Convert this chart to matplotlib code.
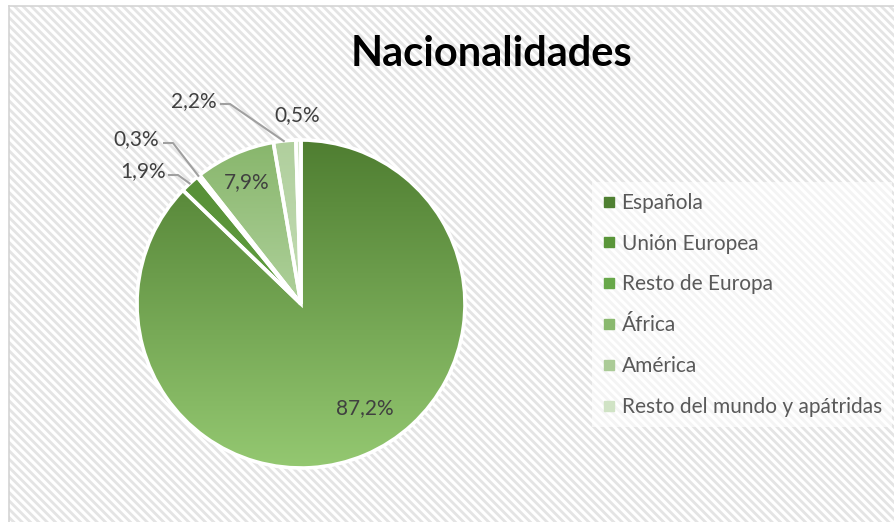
import numpy as np
import matplotlib
matplotlib.use("Agg")
import matplotlib.pyplot as plt
from matplotlib.patches import Rectangle
from matplotlib.lines import Line2D
from matplotlib.colors import to_rgb

# ---- data ----
categories = ["Española", "Unión Europea", "Resto de Europa", "África", "América",
              "Resto del mundo y apátridas"]
values = [87.2, 1.9, 0.3, 7.9, 2.2, 0.5]
title = "Nacionalidades"

# ---- style ----
top_colors = ["#4f7e31", "#578f37", "#64a040", "#88b66c", "#b0cf9d", "#d2e4c7"]
bot_colors = ["#94c871", "#60a040", "#72ad4f", "#afd19b", "#c3dcb4", "#dcebd3"]
legend_colors = ["#4f8032", "#5a963a", "#68a84a", "#8ab96f", "#abcb97", "#d0e3c5"]
FONT = "Lato"
plt.rcParams["font.family"] = [FONT, "DejaVu Sans"]
plt.rcParams["hatch.linewidth"] = 2.0

W, H = 894, 522
CX, CY, R = 301, 304, 164   # pie centre / radius in pixels


def P(px, py):
    """pixel (from top-left) -> data coordinates"""
    return (px - CX) / R, (CY - py) / R


fig = plt.figure(figsize=(W / 100, H / 100), dpi=100)
fig.patch.set_facecolor("white")

# background with diagonal stripes
bg = Rectangle((9 / W, 0), 1 - 9 / W, 1 - 6 / H, transform=fig.transFigure,
               facecolor="white", edgecolor="#e4e4e4", lw=0, hatch="\\\\\\\\", zorder=-5)
fig.patches.append(bg)
fig.lines.append(Line2D([9 / W, 9 / W], [0, 1 - 6 / H], transform=fig.transFigure,
                        color="#d4d4d4", lw=1.2, zorder=-4))
fig.lines.append(Line2D([9 / W, 1], [1 - 6 / H, 1 - 6 / H], transform=fig.transFigure,
                        color="#d4d4d4", lw=1.2, zorder=-4))

ax = fig.add_axes([0, 0, 1, 1], zorder=2)
ax.patch.set_alpha(0)

wedges, _ = ax.pie(values, startangle=90, counterclock=False, radius=1,
                   wedgeprops=dict(facecolor="none", edgecolor="white", linewidth=2.6))
for w in wedges:
    w.set_zorder(3)

ax.set_xlim(-CX / R, (W - CX) / R)
ax.set_ylim(-(H - CY) / R, CY / R)
ax.set_aspect("equal")
ax.axis("off")

# gradient fills clipped to each wedge
for w, ct, cb in zip(wedges, top_colors, bot_colors):
    th1, th2 = np.deg2rad(w.theta1), np.deg2rad(w.theta2)
    ang = np.linspace(th1, th2, 200)
    xs = np.concatenate([[0], np.cos(ang)])
    ys = np.concatenate([[0], np.sin(ang)])
    x0, x1, y0, y1 = xs.min(), xs.max(), ys.min(), ys.max()
    t = np.linspace(0, 1, 256)[:, None]
    c0, c1 = np.array(to_rgb(ct)), np.array(to_rgb(cb))
    grad = (c0[None, :] * (1 - t) + c1[None, :] * t)[:, None, :]
    im = ax.imshow(grad, extent=(x0, x1, y0, y1), origin="upper", aspect="auto",
                   zorder=2, interpolation="bilinear")
    im.set_clip_path(w)

ax.set_xlim(-CX / R, (W - CX) / R)
ax.set_ylim(-(H - CY) / R, CY / R)


def fmt(v):
    return f"{v:.1f}".replace(".", ",") + "%"


def mid(w):
    return np.deg2rad((w.theta1 + w.theta2) / 2)


lab_col = "#404040"
lead_col = "#a0a0a0"
fs = 15

# inside labels
ax.text(*P(365, 408), fmt(values[0]), ha="center", va="center", fontsize=fs,
        color=lab_col, zorder=5)
a = mid(wedges[3])
ax.text(0.81 * np.cos(a), 0.81 * np.sin(a), fmt(values[3]), ha="center", va="center",
        fontsize=fs, color=lab_col, zorder=5)

# outside labels with leader lines: (index, text centre px, leader start px)
outside = [(1, (143, 171), (168, 175)),
           (2, (136, 139), (163, 143)),
           (4, (194, 101), (220, 104))]
for i, tc, ls in outside:
    ax.text(*P(*tc), fmt(values[i]), ha="center", va="center", fontsize=fs,
            color=lab_col, zorder=5)
    a = mid(wedges[i])
    ex, ey = 0.995 * np.cos(a), 0.995 * np.sin(a)
    sx, sy = P(*ls)
    kx = sx + 10 / R
    ax.plot([sx, kx, ex], [sy, sy, ey], color=lead_col, lw=1.5, zorder=4,
            solid_capstyle="butt")

ax.text(*P(297, 115), fmt(values[5]), ha="center", va="center", fontsize=fs,
        color=lab_col, zorder=5)

# title
fig.text(492 / W, 1 - 54 / H, title, ha="center", va="center", fontsize=30,
         fontweight="bold", color="black", zorder=5)

# legend
handles = [Line2D([], [], marker="s", linestyle="none", markersize=6.5,
                  markerfacecolor=c, markeredgecolor=c) for c in legend_colors]
leg = fig.legend(handles, categories, loc="upper left",
                 bbox_to_anchor=(582 / W, 1 - 172 / H), frameon=True,
                 fontsize=15, labelcolor="#595959", handlelength=0.6,
                 handletextpad=0.3, labelspacing=1.0, borderpad=0.5,
                 fancybox=False)
leg.set_zorder(6)
leg.get_frame().set_facecolor("white")
leg.get_frame().set_alpha(0.6)
leg.get_frame().set_linewidth(0)

fig.savefig("out.png", dpi=100)
